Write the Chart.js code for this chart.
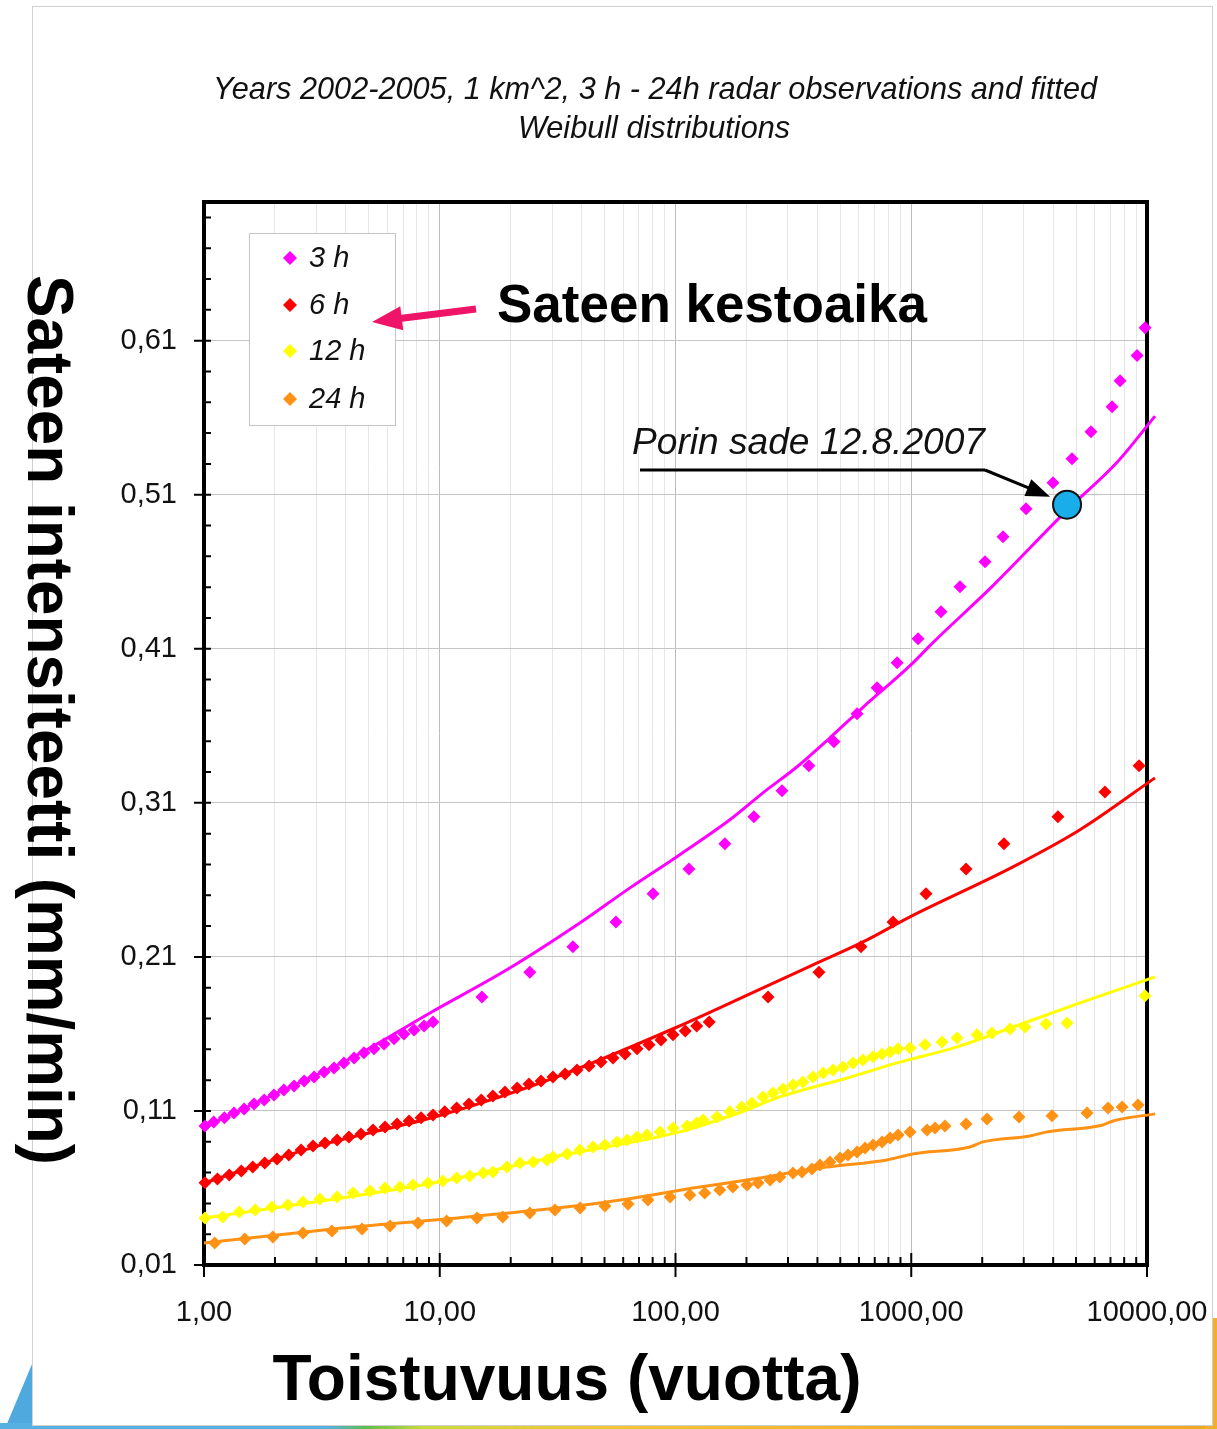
<!DOCTYPE html>
<html><head><meta charset="utf-8">
<script src="https://cdn.jsdelivr.net/npm/chart.js@4.4.0/dist/chart.umd.min.js"></script>
<style>
html,body{margin:0;padding:0;background:#fff;}
#wrap{position:relative;width:1217px;height:1429px;overflow:hidden;background:#fff;}
.deco{position:absolute;}
#panel{position:absolute;left:32px;top:6px;width:1179px;height:1418px;border:1px solid #d0d0d0;background:#fff;}
canvas{position:absolute;left:0;top:0;}
</style></head><body>
<div id="wrap">
<div class="deco" style="left:0;top:1345px;width:40px;height:84px;background:#4fa9df;clip-path:polygon(100% 0,100% 100%,12% 100%)"></div>
<div class="deco" style="left:0;top:1423px;width:1217px;height:6px;background:linear-gradient(90deg,#56b0e2 0,#56b0e2 27%,#5cbf4e 30%,#c9dc3a 35%,#f3c534 50%,#f2b12a 75%,#efa822 100%)"></div>
<div class="deco" style="left:1205px;top:1318px;width:12px;height:111px;background:#f0b02c"></div>
<div id="panel"></div>
<canvas id="c" width="1217" height="1429"></canvas>
</div>
<script>
// ---------- data ----------
const seriesLabels = ['3 h', '6 h', '12 h', '24 h'];
const seriesColors = ['#ff00ff', '#ff0000', '#ffff00', '#ff9214'];

// observations (return period in years, intensity mm/min)
const obs3hT = [1.01,1.10,1.22,1.34,1.48,1.63,1.80,1.98,2.18,2.41,2.66,2.93,3.23,3.56,3.92,4.33,4.77,5.26,5.80,6.40,7.05,7.78,8.58,9.36,
  15.1,24.1,36.7,55.9,80.3,114,162,215,283,368,470,589,716,871,1069,1337,1610,2055,2450,3069,3993,4808,5785,7109,7686,9075,9812];
const obs3hV = [0.1003,0.1029,0.1055,0.1087,0.1113,0.1145,0.1171,0.1204,0.1236,0.1262,0.1295,0.1321,0.1353,0.1379,0.1412,0.1444,0.1477,0.1503,0.1535,0.1568,0.1600,0.1626,0.1652,0.1678,
  0.184,0.200,0.2165,0.2327,0.2509,0.2671,0.2834,0.3009,0.3178,0.334,0.3496,0.3678,0.3847,0.4009,0.4165,0.434,0.4503,0.4665,0.4827,0.5009,0.5178,0.5334,0.5509,0.5671,0.584,0.6003,0.6184];

const obs6hT = [1.01,1.14,1.28,1.44,1.61,1.81,2.04,2.29,2.58,2.90,3.26,3.67,4.12,4.63,5.21,5.86,6.59,7.41,8.33,9.36,10.5,11.8,13.3,15.0,16.8,18.9,21.3,23.9,26.9,30.2,34.0,38.2,43.0,48.3,54.3,61.1,68.7,77.2,86.8,97.6,110,123,139,
  247,406,612,837,1155,1708,2473,4191,6633,9253];
const obs6hV = [0.0634,0.0658,0.0684,0.0710,0.0736,0.0762,0.0788,0.0814,0.0847,0.0873,0.0892,0.0912,0.0931,0.0951,0.0977,0.0996,0.1016,0.1035,0.1055,0.1074,0.1094,0.1119,0.1145,0.1171,0.1197,0.1223,0.1249,0.1275,0.1295,0.1321,0.1340,0.1366,0.1392,0.1418,0.1444,0.1470,0.1503,0.1529,0.1561,0.1594,0.1619,0.1652,0.1678,
  0.184,0.200,0.2165,0.2327,0.2509,0.2671,0.2834,0.3009,0.3171,0.334];

const obs12hT = [1.01,1.20,1.41,1.65,1.94,2.27,2.63,3.10,3.67,4.29,5.06,5.86,6.78,7.70,8.92,10.3,11.8,13.4,15.3,16.8,19.3,21.9,24.9,28.5,30.2,34.7,39.3,44.7,50.2,56.5,62.3,68.7,75.7,86.0,97.6,
  112,123,131,150,170,191,211,235,259,286,315,347,383,423,466,513,566,624,688,751,813,879,988,1144,1350,1564,1901,2200,2624,3038,3729,4580,9806];
const obs12hV = [0.0405,0.0412,0.0444,0.0457,0.0477,0.0490,0.0509,0.0529,0.0542,0.0568,0.0580,0.0600,0.0606,0.0619,0.0632,0.0645,0.0665,0.0678,0.0697,0.0704,0.0736,0.0762,0.0769,0.0782,0.0801,0.0821,0.0847,0.0866,0.0879,0.0899,0.0912,0.0931,0.0944,0.0964,0.0990,
  0.1003,0.1022,0.1042,0.1061,0.1094,0.1126,0.1152,0.1191,0.1217,0.1243,0.1269,0.1288,0.1321,0.1347,0.1366,0.1386,0.1412,0.1431,0.1451,0.1470,0.1483,0.1503,0.1509,0.1529,0.1548,0.1574,0.1594,0.1606,0.1632,0.1645,0.1665,0.1671,0.1847];

const obs24hT = [1.11,1.49,1.96,2.63,3.49,4.68,6.15,8.09,10.7,14.4,18.5,24.1,30.8,39.4,50.2,62.9,76.4,94.8,115,133,154,175,201,224,252,277,315,344,379,410,452,499,539,589,637,689,752,813,879,988,1167,1262,1390,1708,2096,2864,3953,5566,6835,7838,9162];
const obs24hV = [0.0243,0.0269,0.0282,0.0308,0.0321,0.0334,0.0353,0.0373,0.0386,0.0405,0.0412,0.0438,0.0457,0.047,0.0483,0.0496,0.0522,0.0542,0.0555,0.0568,0.0587,0.0606,0.0619,0.0632,0.0652,0.0671,0.0697,0.0704,0.0723,0.0749,0.0769,0.0795,0.0814,0.0834,0.086,0.0879,0.0899,0.0925,0.0944,0.0964,0.0977,0.099,0.1003,0.1016,0.1048,0.1061,0.1068,0.1087,0.1119,0.1126,0.1139];

// fitted Weibull distributions
const fit3hT = [1,2,4.3,9.09,19.9,39.4,64.1,101,170,235,328,452,624,988,1236,2222,4580,7464,10814];
const fit3hV = [0.0996,0.121,0.145,0.1736,0.2029,0.2321,0.2548,0.2749,0.2990,0.3165,0.3334,0.3522,0.372,0.399,0.414,0.451,0.500,0.531,0.561];
const fit6hT = [1,3,10,30,100,235,383,624,988,2701,5197,10814];
const fit6hV = [0.0632,0.087,0.107,0.131,0.164,0.1899,0.2048,0.2197,0.236,0.2684,0.2925,0.3262];
const fit12hT = [1,3,10,30,104,180,277,534,871,1563,2701,5197,10814];
const fit12hV = [0.0405,0.051,0.064,0.080,0.0964,0.108,0.1191,0.1314,0.1412,0.1516,0.1645,0.1801,0.197];
const fit24hT = [1,3.53,13.1,47.8,127,201,439,789,1016,1775,2015,3190,3767,6500,7173,10814];
const fit24hV = [0.0243,0.0334,0.0412,0.0503,0.0606,0.0652,0.0736,0.0782,0.0821,0.0866,0.0899,0.0938,0.0964,0.1009,0.1035,0.1081];

// Pori rain event 12.8.2007
const porinT = [4580];
const porinV = [0.5035];

// axis ticks
const xMajorTicks = [1, 10, 100, 1000, 10000];
const xMinorMultipliers = [2, 3, 4, 5, 6, 7, 8, 9];
const yTicks = [0.01, 0.11, 0.21, 0.31, 0.41, 0.51, 0.61];
const yMinorStep = 0.02;
const yMin = 0.01, yMax = 0.70;

// ---------- build ----------
const FONT = '"Liberation Sans", Arial, sans-serif';
const pairs = (T, V) => T.map((t, i) => ({x: t, y: V[i]}));
const fmt = v => v.toFixed(2).replace('.', ',');

const xAllTicks = [];
xMajorTicks.forEach((m, i) => {
  xAllTicks.push(m);
  if (i < xMajorTicks.length - 1) xMinorMultipliers.forEach(k => xAllTicks.push(m * k));
});
const isXMajor = v => xMajorTicks.some(m => Math.abs(m - v) < 1e-9 * m);

const obsSets = [[obs3hT, obs3hV], [obs6hT, obs6hV], [obs12hT, obs12hV], [obs24hT, obs24hV]];
const fitSets = [[fit3hT, fit3hV], [fit6hT, fit6hV], [fit12hT, fit12hV], [fit24hT, fit24hV]];

const datasets = [];
datasets.push({
  label: 'Porin sade 12.8.2007', data: pairs(porinT, porinV),
  pointRadius: 14, pointBackgroundColor: '#19aee9', pointBorderColor: '#111', pointBorderWidth: 2,
  order: 0, clip: false
});
obsSets.forEach((s, i) => datasets.push({
  label: seriesLabels[i], data: pairs(s[0], s[1]),
  pointStyle: 'rectRot', pointRadius: 6.5, pointBackgroundColor: seriesColors[i], pointBorderWidth: 0,
  pointBorderColor: seriesColors[i], order: 1, clip: false
}));
fitSets.forEach((s, i) => datasets.push({
  label: seriesLabels[i] + ' Weibull', data: pairs(s[0], s[1]),
  showLine: true, borderColor: seriesColors[i], borderWidth: 3, pointRadius: 0,
  cubicInterpolationMode: 'monotone', fill: false, order: 2, clip: false
}));

// draw text stretched/condensed horizontally to a target width
function fitText(ctx, text, x, y, width, align) {
  const w = ctx.measureText(text).width;
  const k = width / w;
  ctx.save();
  ctx.translate(x, y);
  ctx.scale(k, 1);
  ctx.textAlign = align || 'center';
  ctx.fillText(text, 0, 0);
  ctx.restore();
  return k;
}

const decor = {
  id: 'decor',
  beforeDatasetsDraw(chart) {
    const {ctx, chartArea: a, scales: {x, y}} = chart;
    ctx.save();
    ctx.strokeStyle = '#000';
    ctx.lineWidth = 4;
    ctx.strokeRect(a.left, a.top, a.right - a.left, a.bottom - a.top);
    ctx.lineWidth = 2;
    ctx.beginPath();
    yTicks.forEach(v => { const p = y.getPixelForValue(v); ctx.moveTo(a.left - 10, p); ctx.lineTo(a.left, p); });
    for (let v = yMin + yMinorStep; v < yMax; v += yMinorStep) {
      const p = y.getPixelForValue(v); ctx.moveTo(a.left, p); ctx.lineTo(a.left + 7, p);
    }
    xAllTicks.forEach(v => {
      const p = x.getPixelForValue(v);
      if (isXMajor(v)) { ctx.moveTo(p, a.bottom - 12); ctx.lineTo(p, a.bottom + 12); }
      else { ctx.moveTo(p, a.bottom - 8); ctx.lineTo(p, a.bottom); }
    });
    ctx.stroke();
    ctx.restore();
  },
  afterDraw(chart) {
    const {ctx, scales: {x, y}} = chart;
    ctx.save();
    ctx.fillStyle = '#111';
    ctx.textBaseline = 'middle';
    // title
    ctx.font = 'italic 32px ' + FONT;
    const k = fitText(ctx, 'Years 2002-2005, 1 km^2, 3 h - 24h radar observations and fitted', 655, 90, 884);
    const w2 = ctx.measureText('Weibull distributions').width * k;
    fitText(ctx, 'Weibull distributions', 654, 129, w2);
    // axis titles
    ctx.font = 'bold 64px ' + FONT;
    ctx.fillStyle = '#000';
    fitText(ctx, 'Toistuvuus (vuotta)', 567, 1382, 589);
    ctx.save();
    ctx.translate(46, 720);
    ctx.rotate(Math.PI / 2);
    fitText(ctx, 'Sateen intensiteetti (mm/min)', 0, 0, 890);
    ctx.restore();
    // legend
    ctx.fillStyle = '#fff';
    ctx.fillRect(249, 233, 146, 192);
    ctx.strokeStyle = '#c4c4c4'; ctx.lineWidth = 1;
    ctx.strokeRect(249.5, 233.5, 146, 192);
    const ly = [258, 305, 351, 399];
    seriesLabels.forEach((lab, i) => {
      ctx.fillStyle = seriesColors[i];
      ctx.beginPath();
      ctx.moveTo(290, ly[i] - 7); ctx.lineTo(297, ly[i]); ctx.lineTo(290, ly[i] + 7); ctx.lineTo(283, ly[i]);
      ctx.closePath(); ctx.fill();
      ctx.fillStyle = '#111';
      ctx.font = 'italic 29px ' + FONT;
      ctx.textAlign = 'left';
      ctx.fillText(lab, 309, ly[i] + 1);
    });
    // "Sateen kestoaika" with pink arrow
    ctx.fillStyle = '#000';
    ctx.font = 'bold 53px ' + FONT;
    fitText(ctx, 'Sateen kestoaika', 497, 307, 430, 'left');
    drawArrow(ctx, 476, 309, 372, 322, '#ee1468', 7, 30, 12);
    // Porin annotation
    ctx.fillStyle = '#111';
    ctx.font = 'italic 37px ' + FONT;
    fitText(ctx, 'Porin sade 12.8.2007', 632, 444, 353, 'left');
    const cx = x.getPixelForValue(porinT[0]), cy = y.getPixelForValue(porinV[0]);
    ctx.strokeStyle = '#000'; ctx.lineWidth = 3;
    ctx.beginPath(); ctx.moveTo(640, 470); ctx.lineTo(985, 470); ctx.stroke();
    drawArrow(ctx, 985, 470, cx - 17, cy - 8, '#000', 3, 24, 9);
    ctx.restore();
  }
};

function drawArrow(ctx, x0, y0, x1, y1, color, w, headLen, headHalf) {
  const dx = x1 - x0, dy = y1 - y0, L = Math.hypot(dx, dy);
  const ux = dx / L, uy = dy / L, nx = -uy, ny = ux;
  const bx = x1 - ux * headLen, by = y1 - uy * headLen;
  ctx.save();
  ctx.strokeStyle = color; ctx.fillStyle = color; ctx.lineWidth = w; ctx.lineCap = 'butt';
  ctx.beginPath(); ctx.moveTo(x0, y0); ctx.lineTo(bx + ux * 2, by + uy * 2); ctx.stroke();
  ctx.beginPath();
  ctx.moveTo(x1, y1);
  ctx.lineTo(bx + nx * headHalf, by + ny * headHalf);
  ctx.lineTo(bx - nx * headHalf, by - ny * headHalf);
  ctx.closePath(); ctx.fill();
  ctx.restore();
}

new Chart(document.getElementById('c'), {
  type: 'scatter',
  data: {datasets},
  options: {
    responsive: false,
    animation: false,
    layout: {padding: {left: 104, right: 70, top: 202, bottom: 104}},
    plugins: {legend: {display: false}, tooltip: {enabled: false}},
    scales: {
      x: {
        type: 'logarithmic', min: 1, max: 10000,
        afterBuildTicks: s => { s.ticks = xAllTicks.map(v => ({value: v, major: isXMajor(v)})); },
        afterFit: s => { s.height = 60; s.paddingLeft = 0; s.paddingRight = 0; },
        ticks: {autoSkip: false, maxRotation: 0, minRotation: 0, padding: 31, color: '#111',
          font: {family: FONT, size: 29},
          callback: v => isXMajor(v) ? fmt(v) : ''},
        grid: {drawTicks: false, lineWidth: 1,
          color: c => (c.tick && isXMajor(c.tick.value)) ? '#bcbcbc' : '#e6e6e6'},
        border: {display: false}
      },
      y: {
        type: 'linear', min: yMin, max: yMax,
        afterBuildTicks: s => { s.ticks = yTicks.map(v => ({value: v})); },
        afterFit: s => { s.width = 100; s.paddingTop = 0; s.paddingBottom = 0; },
        ticks: {padding: 27, color: '#111', font: {family: FONT, size: 29}, callback: v => fmt(v)},
        grid: {drawTicks: false, lineWidth: 1, color: '#c4c4c4'},
        border: {display: false}
      }
    }
  },
  plugins: [decor]
});
</script>
</body></html>
